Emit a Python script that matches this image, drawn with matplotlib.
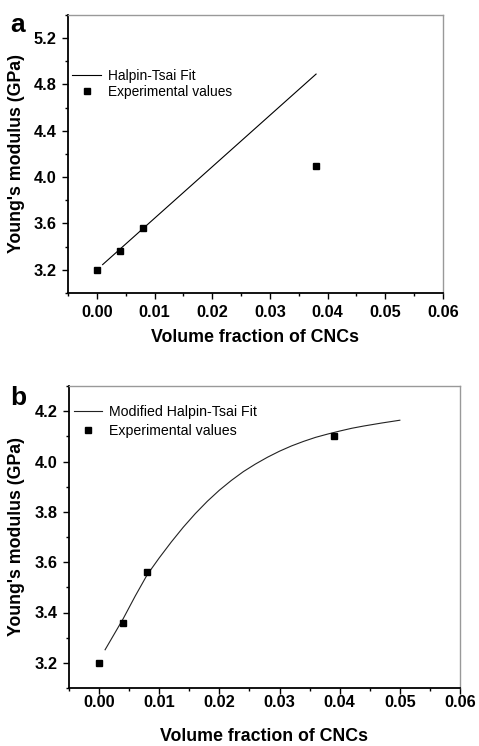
import matplotlib
matplotlib.use("Agg")
import matplotlib.pyplot as plt
from matplotlib.ticker import MultipleLocator

plt.rcParams['font.family'] = ['Liberation Sans', 'DejaVu Sans']

# panel a data
exp_x_a = [0.0, 0.004, 0.008, 0.038]
exp_y_a = [3.20, 3.36, 3.56, 4.10]
fit_x_a = [0.001, 0.038]
fit_y_a = [3.245, 4.89]

# panel b data
exp_x_b = [0.0, 0.004, 0.008, 0.039]
exp_y_b = [3.20, 3.36, 3.56, 4.10]
fit_x_b = [0.001, 0.004, 0.006, 0.008, 0.010, 0.012, 0.014, 0.016, 0.018,
           0.020, 0.022, 0.024, 0.026, 0.028, 0.030, 0.032, 0.034, 0.036,
           0.038, 0.040, 0.042, 0.044, 0.047, 0.050]
fit_y_b = [3.252, 3.375, 3.465, 3.55, 3.617, 3.68, 3.739, 3.793, 3.842,
           3.886, 3.925, 3.960, 3.990, 4.017, 4.041, 4.062, 4.080, 4.096,
           4.109, 4.121, 4.132, 4.141, 4.153, 4.164]

W, H = 479, 746
fig = plt.figure(figsize=(W / 100, H / 100), dpi=100)


def style_axes(ax, ymajor, yminor, xpad, ypad):
    ax.xaxis.set_major_locator(MultipleLocator(0.01))
    ax.xaxis.set_minor_locator(MultipleLocator(0.005))
    ax.yaxis.set_major_locator(MultipleLocator(ymajor))
    ax.yaxis.set_minor_locator(MultipleLocator(yminor))
    ax.xaxis.set_major_formatter(plt.FuncFormatter(lambda v, p: f"{v:.2f}"))
    ax.yaxis.set_major_formatter(plt.FuncFormatter(lambda v, p: f"{v:.1f}"))
    ax.tick_params(which='both', direction='out', top=False, right=False, width=1)
    ax.tick_params(which='major', length=4)
    ax.tick_params(which='minor', length=2.5)
    ax.tick_params(axis='x', which='major', pad=xpad)
    ax.tick_params(axis='y', which='major', pad=ypad)
    for lab in ax.get_xticklabels() + ax.get_yticklabels():
        lab.set_fontweight('bold')
        lab.set_fontsize(11.8)
    for s in ['left', 'bottom']:
        ax.spines[s].set_linewidth(1.3)
        ax.spines[s].set_color('black')
    for s in ['top', 'right']:
        ax.spines[s].set_linewidth(1.0)
        ax.spines[s].set_color('#999999')


# Panel a
ax1 = fig.add_axes([68 / W, 1 - 293 / H, 375 / W, 278 / H])
ax1.plot(fit_x_a, fit_y_a, color='black', lw=0.8, label='Halpin-Tsai Fit')
ax1.plot(exp_x_a, exp_y_a, 's', color='black', ms=4.5, ls='none',
         label='Experimental values')
ax1.set_xlim(-0.005, 0.06)
ax1.set_ylim(3.0, 5.4)
style_axes(ax1, 0.4, 0.2, 4.5, 4)
ax1.set_xlabel('Volume fraction of CNCs', fontsize=12.8, fontweight='bold')
ax1.set_ylabel("Young's modulus (GPa)", fontsize=12.8, fontweight='bold')
ax1.xaxis.set_label_coords(0.5, -0.13)
ax1.yaxis.set_label_coords(-0.115, 0.5)
ax1.legend(loc='upper left', bbox_to_anchor=(0.011, 0.805), frameon=False,
           fontsize=9.9, borderpad=0, borderaxespad=0, handlelength=2.1,
           handletextpad=0.5, labelspacing=0.1)
fig.text(10 / W, 1 - 32 / H, 'a', fontsize=19, fontweight='bold',
         ha='left', va='baseline')

# Panel b
ax2 = fig.add_axes([69 / W, 1 - 688 / H, 391 / W, 302 / H])
ax2.plot(fit_x_b, fit_y_b, color='#222222', lw=0.8,
         label='Modified Halpin-Tsai Fit')
ax2.plot(exp_x_b, exp_y_b, 's', color='black', ms=4.5, ls='none',
         label='Experimental values')
ax2.set_xlim(-0.005, 0.06)
ax2.set_ylim(3.1, 4.3)
style_axes(ax2, 0.2, 0.1, 1, 4)
ax2.set_xlabel('Volume fraction of CNCs', fontsize=12.8, fontweight='bold')
ax2.set_ylabel("Young's modulus (GPa)", fontsize=12.8, fontweight='bold')
ax2.xaxis.set_label_coords(0.5, -0.132)
ax2.yaxis.set_label_coords(-0.1125, 0.5)
ax2.legend(loc='upper left', bbox_to_anchor=(0.013, 0.937), frameon=False,
           fontsize=10.2, borderpad=0, borderaxespad=0, handlelength=2.0,
           handletextpad=0.5, labelspacing=0.35)
fig.text(10 / W, 1 - 405 / H, 'b', fontsize=19, fontweight='bold',
         ha='left', va='baseline')

fig.savefig('out.png', dpi=100)
